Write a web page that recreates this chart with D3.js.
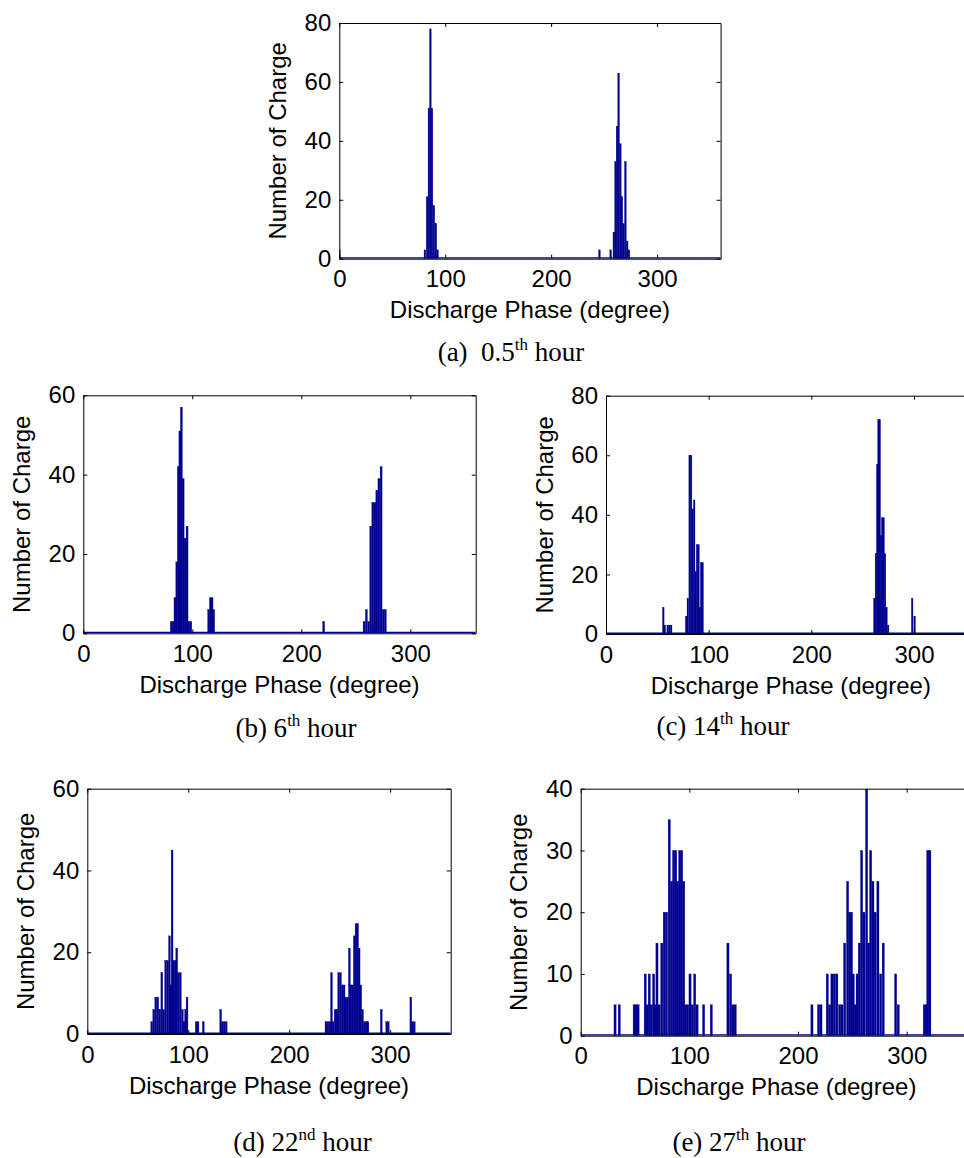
<!DOCTYPE html>
<html><head><meta charset="utf-8">
<script src="https://cdn.jsdelivr.net/npm/d3@7"></script>
<style>body{margin:0;background:#fff} svg{display:block}</style>
</head><body>
<svg id="c" width="964" height="1158"></svg>
<script>
// ---------- data ----------
const xTicks = [0, 100, 200, 300];
const xDomain = [0, 360];

const yTicksA = [0, 20, 40, 60, 80];
const phaseA = [0, 80.8, 82.9, 84.6, 86.0, 87.5, 89.3, 91.1, 92.8, 245.6, 256.2, 259.2, 260.8, 262.2, 263.7, 265.3, 266.8, 268.4, 270.1, 271.8, 273.5];
const countA = [3, 3, 21, 51, 78, 51, 18, 12, 3, 3, 3, 9, 33, 45, 63, 39, 21, 12, 33, 6, 3];

const yTicksB = [0, 20, 40, 60];
const phaseB = [80.7, 82.5, 84.1, 85.8, 87.2, 88.6, 90.0, 91.6, 93.4, 95.2, 96.8, 98.6, 115.0, 116.6, 118.1, 119.6, 220.5, 257.6, 259.7, 261.8, 263.7, 265.6, 267.5, 269.3, 271.2, 273.2, 275.2, 277.1];
const countB = [3, 3, 9, 18, 42, 51, 57, 39, 24, 27, 3, 3, 6, 9, 9, 6, 3, 3, 6, 3, 27, 33, 33, 36, 39, 42, 6, 6];

const yTicksC = [0, 20, 40, 60, 80];
const phaseC = [55.8, 57.3, 60.1, 61.8, 63.5, 78.1, 79.7, 81.5, 82.9, 84.4, 85.9, 87.3, 88.7, 90.1, 91.4, 92.7, 94.1, 261.4, 262.9, 264.2, 265.4, 266.6, 267.8, 269.0, 270.4, 271.8, 273.2, 274.8, 298.2, 300.6];
const countC = [9, 3, 3, 3, 3, 6, 12, 60, 60, 42, 45, 21, 30, 30, 9, 24, 24, 12, 27, 57, 72, 72, 33, 39, 39, 27, 9, 3, 12, 6];

const yTicksD = [0, 20, 40, 60];
const phaseD = [63.8, 65.8, 67.8, 69.8, 71.8, 73.8, 75.7, 77.6, 79.6, 81.4, 82.8, 84.0, 85.6, 87.2, 88.6, 90.3, 92.2, 94.2, 95.8, 97.3, 98.8,
  107.9, 109.7, 114.9, 132.1, 133.7, 135.6, 137.6,
  236.4, 238.4, 240.4, 241.9, 243.5, 245.5, 247.3, 249.0, 250.8, 252.6, 254.4, 256.2, 258.0, 259.6, 261.2, 262.9, 264.5, 266.2, 267.8, 269.3, 270.9, 272.6, 274.4, 276.2, 278.0,
  291.2, 296.6, 298.2, 320.5, 322.1, 323.9];
const countD = [3, 6, 9, 9, 6, 15, 6, 18, 18, 24, 12, 45, 18, 18, 21, 15, 15, 6, 3, 6, 9,
  3, 3, 3, 6, 3, 3, 3,
  3, 3, 3, 15, 3, 6, 6, 15, 15, 12, 12, 9, 9, 21, 12, 12, 24, 27, 27, 21, 12, 6, 3, 3, 3,
  6, 3, 3, 9, 3, 3];

const yTicksE = [0, 10, 20, 30, 40];
const phaseE = [31.6, 35.5, 49.2, 51.0, 52.8, 59.4, 61.2, 63.1, 65.0, 67.1, 68.6, 70.2, 72.2, 74.6, 76.9, 79.0, 81.5, 83.6, 85.5, 87.4, 89.2, 91.1, 92.9, 94.8, 96.6, 98.4, 100.6, 102.7, 104.9, 107.1, 113.1, 120.2, 135.5, 137.9, 140.1, 142.2,
  212.8, 218.9, 221.1, 226.9, 229.1, 231.2, 233.4, 235.7, 238.3, 240.4, 242.9, 245.6, 247.5, 249.2, 250.8, 252.6, 254.4, 256.4, 258.5, 260.6, 263.1, 265.0, 266.8, 268.9, 271.0, 273.5, 276.0, 278.4,
  289.8, 292.2, 316.2, 318.0, 319.4, 321.3];
const countE = [5, 5, 5, 5, 5, 10, 5, 10, 5, 10, 5, 15, 5, 15, 20, 20, 35, 25, 30, 30, 25, 30, 30, 25, 5, 5, 10, 5, 10, 5, 5, 5, 15, 10, 5, 5,
  5, 5, 5, 10, 5, 10, 10, 10, 5, 5, 15, 25, 20, 20, 10, 5, 10, 15, 30, 20, 40, 15, 30, 25, 20, 25, 10, 15,
  10, 5, 5, 5, 30, 30];

const captionA = ["(a)  0.5", "th", " hour"];
const captionB = ["(b) 6", "th", " hour"];
const captionC = ["(c) 14", "th", " hour"];
const captionD = ["(d) 22", "nd", " hour"];
const captionE = ["(e) 27", "th", " hour"];

const xTitle = "Discharge Phase (degree)";
const yTitle = "Number of Charge";

// ---------- layout ----------
const panels = [
  {phase: phaseA, count: countA, yTicks: yTicksA, bw: 1.6, box: [339.3, 23, 720.6, 258.7], cap: captionA, capX: 511, capY: 361},
  {phase: phaseB, count: countB, yTicks: yTicksB, bw: 1.8, box: [83.3, 395.3, 475.7, 633.3], cap: captionB, capX: 296, capY: 737},
  {phase: phaseC, count: countC, yTicks: yTicksC, bw: 1.55, box: [606, 395.7, 975.6, 634], cap: captionC, capX: 723, capY: 735},
  {phase: phaseD, count: countD, yTicks: yTicksD, bw: 1.8, box: [87.3, 788.7, 450.7, 1034], cap: captionD, capX: 302.5, capY: 1151},
  {phase: phaseE, count: countE, yTicks: yTicksE, bw: 2.0, box: [580.7, 788.7, 971.9, 1035.7], cap: captionE, capX: 739, capY: 1151}
];

const svg = d3.select('#c');
const SANS = "'Liberation Sans', Arial, Helvetica, sans-serif";
const SERIF = "'Liberation Serif', 'Times New Roman', Times, serif";
const BAR = '#00008f';

panels.forEach((p, i) => {
  const [x0, y0, x1, y1] = p.box;
  const yMax = p.yTicks[p.yTicks.length - 1];
  const x = d3.scaleLinear().domain(xDomain).range([x0, x1]);
  const y = d3.scaleLinear().domain([0, yMax]).range([y1, y0]);
  const g = svg.append('g');

  const cid = 'clip' + i;
  svg.append('clipPath').attr('id', cid).append('rect')
    .attr('x', x0).attr('y', y0).attr('width', x1 - x0).attr('height', y1 - y0);

  const gb = g.append('g').attr('clip-path', `url(#${cid})`);
  // zero-count bins drawn as flat line
  gb.append('line').attr('x1', x(xDomain[0])).attr('x2', x(xDomain[1]))
    .attr('y1', y(0) - 0.7).attr('y2', y(0) - 0.7)
    .attr('stroke', BAR).attr('stroke-width', 1.5);
  gb.selectAll('rect.bar').data(d3.zip(p.phase, p.count)).join('rect')
    .attr('class', 'bar')
    .attr('x', d => x(d[0] - p.bw / 2))
    .attr('width', d => x(d[0] + p.bw / 2) - x(d[0] - p.bw / 2))
    .attr('y', d => y(d[1]))
    .attr('height', d => y(0) - y(d[1]))
    .attr('fill', BAR)
    .attr('stroke', BAR).attr('stroke-width', 0.3);

  const styleAxis = sel => {
    sel.selectAll('text').attr('font-family', SANS).attr('font-size', 24).attr('fill', '#000');
    sel.selectAll('line').attr('stroke', '#000');
    sel.select('.domain').attr('stroke', '#000').attr('stroke-width', 1);
  };
  g.append('g').attr('transform', `translate(0,${y1})`)
    .call(d3.axisBottom(x).tickValues(xTicks).tickSizeInner(-4).tickSizeOuter(0).tickPadding(11.5))
    .call(styleAxis);
  g.append('g').attr('transform', `translate(0,${y0})`)
    .call(d3.axisTop(x).tickValues(xTicks).tickSizeInner(-4).tickSizeOuter(0).tickFormat(''))
    .call(styleAxis);
  g.append('g').attr('transform', `translate(${x0},0)`)
    .call(d3.axisLeft(y).tickValues(p.yTicks).tickSizeInner(-4).tickSizeOuter(0).tickPadding(8))
    .call(styleAxis);
  g.append('g').attr('transform', `translate(${x1},0)`)
    .call(d3.axisRight(y).tickValues(p.yTicks).tickSizeInner(-4).tickSizeOuter(0).tickFormat(''))
    .call(styleAxis);

  g.append('text').attr('x', (x0 + x1) / 2).attr('y', y1 + 59.5)
    .attr('text-anchor', 'middle').attr('font-family', SANS).attr('font-size', 24)
    .text(xTitle);
  g.append('text').attr('transform', `translate(${x0 - 53.5},${(y0 + y1) / 2}) rotate(-90)`)
    .attr('text-anchor', 'middle').attr('font-family', SANS).attr('font-size', 24)
    .text(yTitle);

  const cap = g.append('text').attr('x', p.capX).attr('y', p.capY)
    .attr('text-anchor', 'middle').attr('font-family', SERIF).attr('font-size', 27)
    .style('white-space', 'pre');
  cap.append('tspan').text(p.cap[0]);
  cap.append('tspan').attr('font-size', 17).attr('dy', -11).text(p.cap[1]);
  cap.append('tspan').attr('dy', 11).text(p.cap[2]);
});
</script>
</body></html>
